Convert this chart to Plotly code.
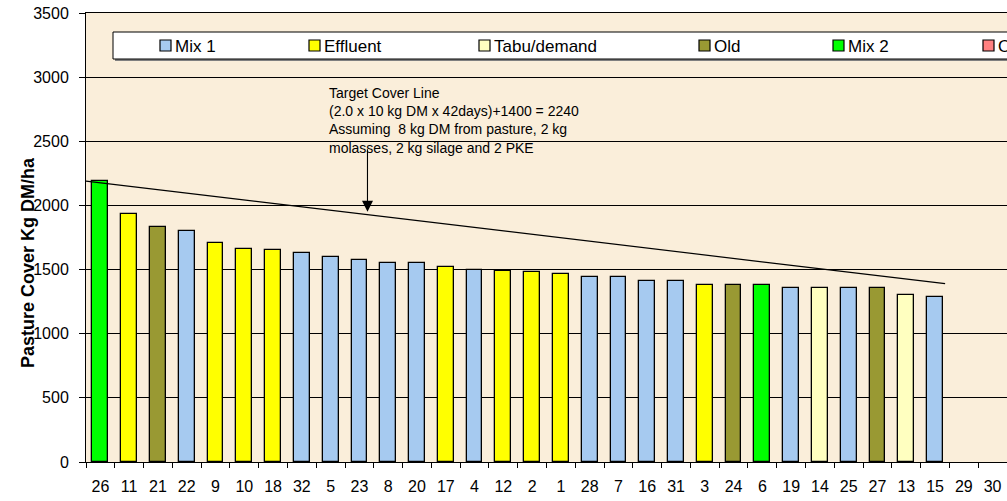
import plotly.graph_objects as go

# ---------------- data ----------------
paddocks = ["26", "11", "21", "22", "9", "10", "18", "32", "5", "23", "8", "20", "17", "4",
            "12", "2", "1", "28", "7", "16", "31", "3", "24", "6", "19", "14", "25", "27",
            "13", "15", "29", "30"]
cover = [2190, 1930, 1830, 1800, 1710, 1660, 1650, 1630, 1600, 1575, 1550, 1550, 1520, 1495,
         1490, 1480, 1465, 1440, 1440, 1410, 1410, 1380, 1380, 1380, 1360, 1355, 1355, 1355,
         1300, 1285, None, None]
group = ["Mix 2", "Effluent", "Old", "Mix 1", "Effluent", "Effluent", "Effluent", "Mix 1",
         "Mix 1", "Mix 1", "Mix 1", "Mix 1", "Effluent", "Mix 1", "Effluent", "Effluent",
         "Effluent", "Mix 1", "Mix 1", "Mix 1", "Mix 1", "Effluent", "Old", "Mix 2", "Mix 1",
         "Tabu/demand", "Mix 1", "Old", "Tabu/demand", "Mix 1", None, None]
group_names = ["Mix 1", "Effluent", "Tabu/demand", "Old", "Mix 2", "Other"]
group_colors = ["#A6CAF0", "#FFFF00", "#FFFFC0", "#999933", "#00FF00", "#FF8080"]
y_ticks = [0, 500, 1000, 1500, 2000, 2500, 3000, 3500]

target_start, target_end = 2190, 1390
target_end_pos = 29.35
arrow_pos, arrow_tip = 9.28, 1950
note_lines = ["Target Cover Line",
              "(2.0 x 10 kg DM x 42days)+1400 = 2240",
              "Assuming \u00a08 kg DM from pasture, 2 kg",
              "molasses, 2 kg silage and 2 PKE"]

# ---------------- layout constants (pixels) ----------------
W, H = 1007, 501
L, R, T, B = 86, 0, 13, 39
PW, PH = W - L - R, H - T - B
FONT = "Liberation Sans, Arial, sans-serif"


def xp(px):
    return (px - L) / PW


def yp(py):
    return (H - B - py) / PH


fig = go.Figure()
for name, color in zip(group_names, group_colors):
    xs = [p for p, g in zip(paddocks, group) if g == name]
    ys = [v for v, g in zip(cover, group) if g == name]
    fig.add_trace(go.Bar(x=xs, y=ys, name=name, width=0.55,
                         marker=dict(color=color, line=dict(color="black", width=1.3)),
                         showlegend=False))

shapes = []
annotations = []

# target cover line
shapes.append(dict(type="line", xref="x", yref="y", x0=-0.5, y0=target_start,
                   x1=target_end_pos, y1=target_end, line=dict(color="black", width=1.2)))

# legend box (manual, clipped at right edge like reference)
shapes.append(dict(type="rect", xref="paper", yref="paper", layer="above",
                   x0=xp(115), x1=xp(1012), y0=yp(34), y1=yp(61),
                   fillcolor="#808080", line=dict(width=0)))
shapes.append(dict(type="rect", xref="paper", yref="paper", layer="above",
                   x0=xp(113), x1=xp(1010), y0=yp(32), y1=yp(59),
                   fillcolor="white", line=dict(color="black", width=1)))
legend_left = [160, 309, 479, 699, 833, 983]
for lx, name, color in zip(legend_left, group_names, group_colors):
    shapes.append(dict(type="rect", xref="paper", yref="paper", layer="above",
                       x0=xp(lx), x1=xp(lx + 11), y0=yp(40), y1=yp(51),
                       fillcolor=color, line=dict(color="black", width=1.2)))
    annotations.append(dict(xref="paper", yref="paper", x=xp(lx + 13), y=yp(46),
                            xanchor="left", yanchor="middle", showarrow=False, text=name,
                            font=dict(family=FONT, size=17, color="black")))

# note text
annotations.append(dict(xref="paper", yref="paper", x=xp(327), y=yp(83),
                        xanchor="left", yanchor="top", align="left", showarrow=False,
                        text="<br>".join(note_lines),
                        font=dict(family=FONT, size=14, color="black")))
# arrow
annotations.append(dict(xref="x", yref="y", x=arrow_pos, y=arrow_tip, ax=0, ay=-64,
                        text="", showarrow=True, arrowhead=2, arrowsize=2,
                        arrowwidth=1.1, arrowcolor="black"))
# y title
annotations.append(dict(xref="paper", yref="paper", x=xp(28), y=yp(263),
                        xanchor="center", yanchor="middle", textangle=-90, showarrow=False,
                        text="<b>Pasture Cover Kg DM/ha</b>",
                        font=dict(family=FONT, size=18, color="black")))

fig.update_layout(
    width=W, height=H,
    margin=dict(l=L, r=R, t=T, b=B, pad=0),
    paper_bgcolor="white", plot_bgcolor="#FAEEDA",
    barmode="overlay", bargap=0,
    showlegend=False,
    font=dict(family=FONT, size=16, color="black"),
    shapes=shapes, annotations=annotations,
    xaxis=dict(type="category", categoryorder="array", categoryarray=paddocks,
               range=[-0.5, len(paddocks) - 0.5], showline=True, linecolor="black",
               linewidth=1, mirror=True, ticks="outside", tickson="boundaries",
               ticklen=5, tickcolor="black", showgrid=False, ticklabelstandoff=10,
               tickfont=dict(family=FONT, size=16, color="black")),
    yaxis=dict(range=[0, 3500], tickvals=y_ticks, showline=True, linecolor="black",
               linewidth=1, ticks="outside", ticklen=6, tickcolor="black",
               showgrid=True, gridcolor="black", gridwidth=1, zeroline=False,
               ticklabelstandoff=7,
               tickfont=dict(family=FONT, size=16, color="black")),
)

fig.write_html("out.html", config={"displayModeBar": False},
               post_script="document.body.style.margin='0';document.body.style.overflow='hidden';")
